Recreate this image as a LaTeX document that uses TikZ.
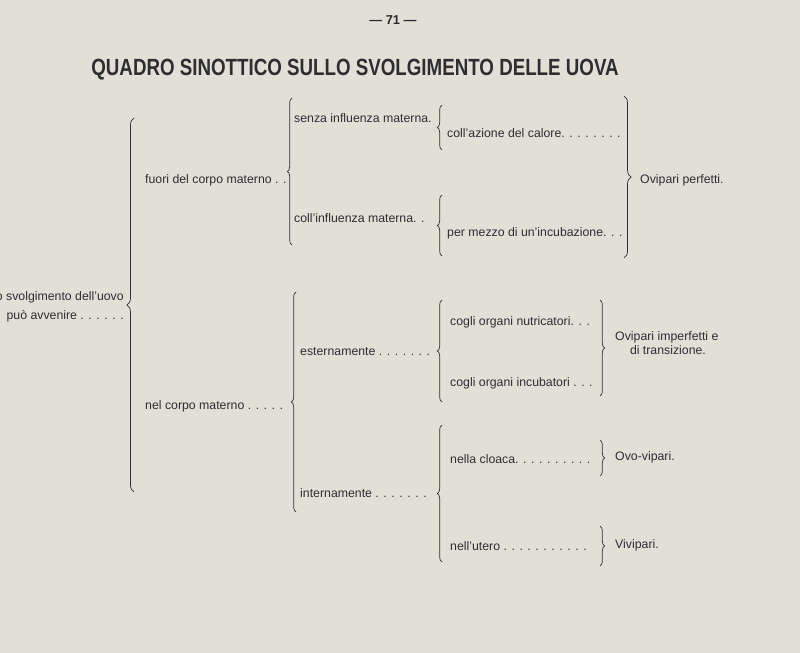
\documentclass[tikz,border=0pt]{standalone}
\usepackage{fontspec}
\setmainfont{Liberation Sans}
\usetikzlibrary{decorations.pathreplacing}
\definecolor{paper}{RGB}{226,224,214}
\definecolor{ink}{RGB}{45,45,50}
\tikzset{
  txt/.style={anchor=west, inner sep=0pt, font=\fontsize{10.5}{12.5}\selectfont, text=ink},
  brl/.style={decorate, decoration={brace, amplitude=4pt}, draw=ink, semithick},
}
\begin{document}
\begin{tikzpicture}[x=0.3mm,y=-0.3mm]
  \fill[paper] (0,0) rectangle (800,653);
  \useasboundingbox (0,0) rectangle (800,653);
  % page head
  \node[txt, anchor=center, font=\bfseries\fontsize{11}{13}\selectfont] (page) at (393,20) {--- 71 ---};
  \node[anchor=center, text=ink, inner sep=0pt, xscale=0.8] (title) at (355,70)
    {\fontsize{20}{24}\selectfont\bfseries QUADRO SINOTTICO SULLO SVOLGIMENTO DELLE UOVA};
  % first column
  \node[txt, anchor=east] (root1) at (124,297) {o svolgimento dell’uovo};
  \node[txt, anchor=east] (root2) at (124,316) {può avvenire . . . . . .};
  \draw[brl, decoration={amplitude=6pt}] (134,492) -- (134,118);
  \node[txt] (fuori) at (145,180) {fuori del corpo materno . .};
  \node[txt] (nel) at (145,406) {nel corpo materno . . . . .};
  % second column
  \draw[brl] (292,245) -- (292,98);
  \draw[brl] (296,512) -- (296,292);
  \node[txt] (senza) at (294,118) {senza influenza materna.};
  \node[txt] (coll) at (294,218) {coll’influenza materna. .};
  \node[txt] (ester) at (300,352) {esternamente . . . . . . .};
  \node[txt] (inter) at (300,493) {internamente . . . . . . .};
  % third column
  \draw[brl] (442,150) -- (442,105);
  \draw[brl] (442,256) -- (442,195);
  \draw[brl] (442,402) -- (442,300);
  \draw[brl] (442,562) -- (442,425);
  \node[txt] (calore) at (447,133) {coll’azione del calore. . . . . . . .};
  \node[txt] (incub) at (447,233) {per mezzo di un’incubazione. . .};
  \node[txt] (nutri) at (450,322) {cogli organi nutricatori. . .};
  \node[txt] (incor) at (450,383) {cogli organi incubatori . . .};
  \node[txt] (cloaca) at (450,459) {nella cloaca. . . . . . . . . .};
  \node[txt] (utero) at (450,546) {nell’utero . . . . . . . . . . .};
  % fourth column
  \draw[brl, decoration={amplitude=6pt}] (624,96) -- (624,258);
  \draw[brl] (600,300) -- (600,396);
  \draw[brl] (600,440) -- (600,476);
  \draw[brl] (600,526) -- (600,566);
  \node[txt] (perf) at (640,180) {Ovipari perfetti.};
  \node[txt, align=left] (imperf) at (615,343) {Ovipari imperfetti e\\ \hspace{1.2em}di transizione.};
  \node[txt] (ovovip) at (615,457) {Ovo-vipari.};
  \node[txt] (vivip) at (615,545) {Vivipari.};
\end{tikzpicture}
\end{document}
